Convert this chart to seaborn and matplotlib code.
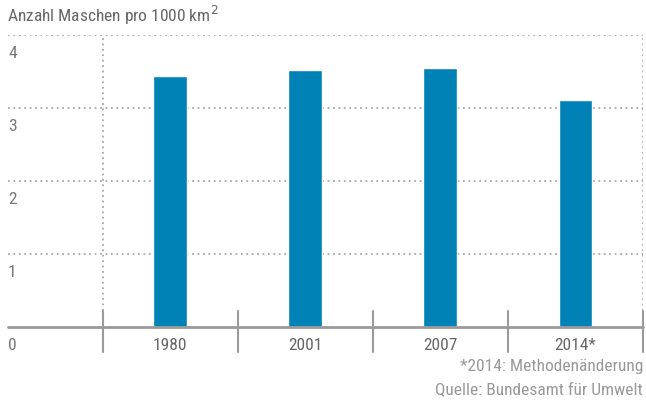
import matplotlib
matplotlib.use("Agg")
import matplotlib.pyplot as plt
import seaborn as sns
import pandas as pd

# data
years = ['1980', '2001', '2007', '2014*']
maschen = [3.44, 3.52, 3.55, 3.11]
y_ticks = [1, 2, 3, 4]

title = 'Anzahl Maschen pro 1000 km$^2$'
note = '*2014: Methodenänderung'
source = 'Quelle: Bundesamt für Umwelt'

sns.set_style('white')
plt.rcParams['font.family'] = ['Roboto Condensed', 'Liberation Sans Narrow', 'Roboto', 'DejaVu Sans']

df = pd.DataFrame({'Jahr': years, 'Wert': maschen})

fig = plt.figure(figsize=(6.46, 4.0), dpi=100)
ax = fig.add_axes([8 / 646, 1 - 327 / 400, 635 / 646, 292 / 400])

sns.barplot(data=df, x='Jahr', y='Wert', order=years, color='#0082b6',
            width=0.25, saturation=1, ax=ax)

ax.set_xlim(-1.2, 3.5)
ax.set_ylim(0, 4)
for s in ax.spines.values():
    s.set_visible(False)
ax.set_xticks([])
ax.set_yticks([])
ax.set_xlabel('')
ax.set_ylabel('')

grid_kw = dict(color='#a8a8a8', lw=1.3, ls=(0, (1, 2)), zorder=0)
for v in y_ticks:
    ax.axhline(v, **grid_kw)
    ax.text(-1.2, v - 0.15, str(v), ha='left', va='top', fontsize=12.5, color='#777777')
ax.plot([-0.5, -0.5], [0, 4], **grid_kw)
ax.plot([3.5, 3.5], [0, 4], **grid_kw)

# baseline and separators
ax.axhline(0, color='#9a9a9a', lw=2, zorder=3, clip_on=False)
for xs in [-0.5, 0.5, 1.5, 2.5, 3.5]:
    ax.plot([xs, xs], [0.22, -0.34], color='#9a9a9a', lw=1.5, clip_on=False, zorder=3)

ax.text(-1.2, -0.25, '0', ha='left', va='center', fontsize=12.5, color='#777777')
for i, yr in enumerate(years):
    ax.text(i, -0.25, yr, ha='center', va='center', fontsize=12.5, color='#666666')

fig.text(7 / 646, 1 - 22 / 400, title, ha='left', va='baseline', fontsize=12.5, color='#666666')
fig.text(643 / 646, 1 - 367 / 400, note, ha='right', va='center', fontsize=12.5, color='#999999')
fig.text(643 / 646, 1 - 390 / 400, source, ha='right', va='center', fontsize=12.5, color='#999999')

fig.savefig('out.png', dpi=100)
